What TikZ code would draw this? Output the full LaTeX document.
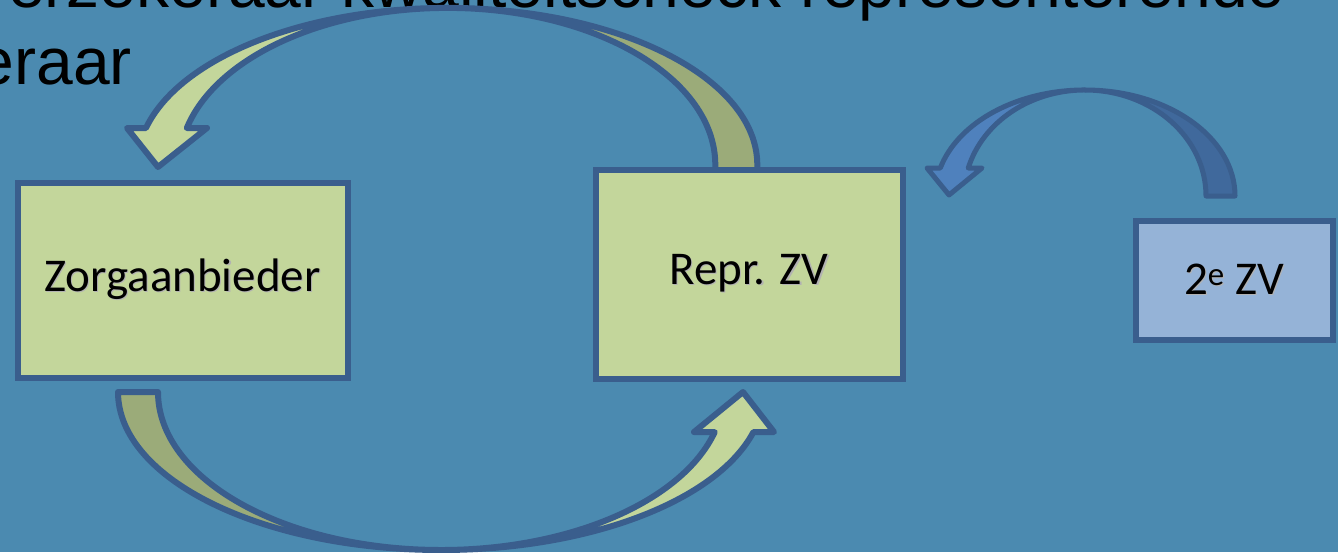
\documentclass[tikz,border=0pt]{standalone}
\usepackage{fontspec}
\setmainfont{Liberation Sans}
\newfontfamily\boxfont{Carlito}
\definecolor{slidebg}{HTML}{4B8AB0}
\definecolor{boxgreen}{HTML}{C3D69B}
\definecolor{backgreen}{HTML}{9BAB79}
\definecolor{edgeblue}{HTML}{3A5E8D}
\definecolor{boxblue}{HTML}{95B3D7}
\definecolor{frontblue}{HTML}{4F81BD}
\definecolor{backblue}{HTML}{40699C}
\newcommand\schaduw[1]{\rlap{\hspace{1.2pt}\raisebox{-1.2pt}{\textcolor{black!30}{#1}}}#1}

\begin{document}
\begin{tikzpicture}[
  x=1pt, y=-1pt,
  zvbox/.style={draw=edgeblue, line width=6pt, fill=boxgreen, inner sep=0pt,
    font=\boxfont\fontsize{47}{56}\selectfont},
  ribbon/.style={draw=edgeblue, line width=6pt, line join=round},
  titel/.style={anchor=base east, inner sep=0pt, font=\fontsize{66}{72}\selectfont}
]
  \fill[slidebg] (0,0) rectangle (1338,552);
  \clip (0,0) rectangle (1338,552);

  % titel, valt deels buiten beeld
  \node[titel] (titel1) at (1285,7) {verzekeraar kwaliteitscheck representerende};
  \node[titel] (titel2) at (132,84) {eraar};

  % pijl boven: Repr. ZV naar Zorgaanbieder
  \draw[ribbon, fill=backgreen] (447.3,7.9) arc[start angle=270, end angle=360, x radius=310, y radius=157]
    -- (757.3,172) -- (715.3,172) -- (715.3,164.9)
    arc[start angle=360, end angle=270, x radius=268, y radius=157] -- cycle;
  \draw[ribbon, fill=boxgreen] (127,128) -- (146,128)
    arc[start angle=193.6, end angle=270, x radius=310, y radius=157]
    arc[start angle=270, end angle=193.6, x radius=268, y radius=157]
    -- (207,128) -- (158,167) -- cycle;

  % pijl onder: Zorgaanbieder naar Repr. ZV
  \draw[ribbon, fill=backgreen] (158,392) -- (118,392)
    arc[start angle=180, end angle=90, x radius=323, y radius=158]
    arc[start angle=90, end angle=180, x radius=283, y radius=158] -- cycle;
  \draw[ribbon, fill=boxgreen] (694,432) -- (714.7,432.1)
    arc[start angle=14.7, end angle=90, x radius=283, y radius=158]
    arc[start angle=90, end angle=14.7, x radius=323, y radius=158]
    -- (774,432) -- (743,392) -- cycle;

  % blauwe pijl: 2e ZV naar Repr. ZV
  \draw[ribbon, line width=5pt, fill=backblue] (1085,90) arc[start angle=270, end angle=360, x radius=150, y radius=106]
    -- (1206,196) arc[start angle=360, end angle=270, x radius=121, y radius=106] -- cycle;
  \draw[ribbon, line width=5pt, fill=frontblue] (927,168) -- (940.3,168)
    arc[start angle=195.3, end angle=270, x radius=150, y radius=106]
    arc[start angle=270, end angle=195.3, x radius=121, y radius=106]
    -- (982,168) -- (949,195) -- cycle;

  % vakken
  \node[zvbox, minimum width=330pt, minimum height=195pt] (zorg) at (182.5,280) {\schaduw{Zorgaanbieder}};
  \node[zvbox, minimum width=307pt, minimum height=209pt] (repr) at (749,274) {\schaduw{Repr. ZV}};
  \node[zvbox, fill=boxblue, minimum width=197pt, minimum height=119pt] (tweede) at (1234,280) {\schaduw{2\textsuperscript{e} ZV}};
\end{tikzpicture}
\end{document}
